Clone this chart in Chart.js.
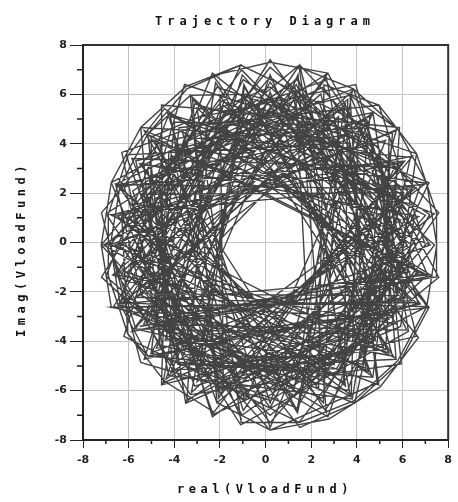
<!DOCTYPE html>
<html>
<head>
<meta charset="utf-8">
<script src="https://cdn.jsdelivr.net/npm/chart.js@4"></script>
<style>
  html, body { margin: 0; padding: 0; background: #fff; }
  #wrap { width: 458px; height: 502px; }
</style>
</head>
<body>
<div id="wrap"><canvas id="trajChart"></canvas></div>
<script>
// trajectory samples: real and imaginary part of VloadFund
const realPart = [
  7.2, 2.53, -6.57, -5.44, 2.63, 6.6, 3.85, -5.17, -3.5, 5.22,
  5.41, -1.09, -3.45, -5.16, -4.04, 5.72, 5.05, -4.24, -6.99, -0.91,
  7.06, 1.26, -6.3, -6.04, -5.16, 3.2, 7.16, -1.92, -7.2, 0.2,
  4.89, 3.67, -6.12, -2.13, 6.2, 0.2, -6.66, 1.1, 7.0, -0.74,
  -5.17, 3.9, 6.35, -2.3, -4.01, 0.2, 7.59, 2.73, -6.99, -1.09,
  6.26, 4.7, -4.24, -4.56, 4.41, 4.9, -2.33, -5.91, -2.6, 5.26,
  5.87, -4.56, -4.5, 2.25, 7.59, 1.49, -5.44, -2.33, 5.27, 3.35,
  -4.13, -6.4, -3.02, 4.25, 5.83, -3.1, -6.21, 1.47, 7.4, 0.2,
  -6.76, -3.1, 3.42, 6.22, -0.98, -5.32, 0.2, 5.72, 2.7, -5.47,
  -4.63, 3.6, 6.78, 0.2, -5.12, -1.78, 6.61, 4.64, -1.58, -6.0,
  2.73, 5.4, 2.18, -5.69, -3.53, 2.85, 6.11, 0.2, -5.6, -1.02,
  6.12, 4.19, -3.4, -4.48, 1.28, 7.1, 3.7, -4.7, -7.19, -5.47,
  0.2, 5.57, 6.61, -2.13, -6.5, -3.3, 5.95, 4.95, -3.55, -6.38,
  -0.77, 6.11, 1.1, -6.19, -3.79, 4.7, 5.52, -1.05, -6.8, -5.69,
  2.05, 6.04, 2.63, -6.3, -4.24, 3.8, 5.4, 0.2, -6.0, 0.2,
  7.0, 4.96, -3.79, -5.01, 1.37, 5.12, 2.32, -4.87, -2.9, 6.68,
  3.95, -2.8, -7.19, -1.92, 4.8, 5.56, -0.88, -5.91, -0.84, 5.92,
  6.5, 0.2, -5.01, -5.06, 1.21, 6.0, 1.38, -5.82, -2.3, 3.87,
  5.46, -1.78, -4.73, -3.85, 3.1, 6.6, 3.0, -3.98, -4.91, 0.2,
  5.74, 4.44, -4.65, -4.32, 2.46, 7.19, 0.2, -7.0, -3.4, 4.7,
  2.66, -5.86, 7.29, -4.3, 0.2, 5.26, -6.69, 3.45, 3.6, -6.1,
  5.41, -0.93, -2.8, 6.59, -5.43, 1.4, 3.93, -6.6, 4.51, 1.31,
  1.9, -6.76, 6.4, -3.3, -2.06, 6.09, -6.38, 2.53, 3.2, -5.72,
  -1.09, -3.5, -5.47, -6.76, -7.2, -6.76, 6.59, -3.0, -1.07, 1.47,
  3.85, 5.79, 7.06, 7.5, 7.06, 5.79, -6.3, 4.8, -0.95, -3.0,
  6.03, -5.44, 3.5, 1.47, 3.85, 5.79, 7.06, 7.5, 7.06, -5.63,
  3.2, -5.86, 6.31, -4.43, -6.04, -6.89, -6.89, -6.04, -4.43, -2.26,
  6.0, -6.1, 4.64, 0.2, -3.66, 6.7, -5.52, 2.32, 2.56, 4.96,
  6.61, 7.49, 7.49, -5.52, 5.91, -3.66, 0.2, 4.31, -6.6, 5.74,
  -2.3, 0.2, 2.73, -5.0, 6.9, -4.86, 1.24, 3.5, -5.25, 5.84,
  -3.2, -2.13, 0.2, 2.77, 5.02, 6.7, -1.99, -1.85, 6.44, -6.5,
  3.7, 1.24, -5.01, 7.2, -5.32, 1.38, 3.8, -6.19, 5.4, -0.84,
  -3.25, 6.4, -6.57, 3.0, 5.72, -6.8, 5.18, 0.2, -4.37, 5.91,
  -4.09, -0.91, 4.7, -6.38, 7.09, -5.09, 2.66, 1.42, -4.17, 6.97,
  -6.79, 5.64, -2.19, -4.49, 6.7, -1.02, -4.4, 7.16, 0.2, -5.34,
  6.18, 1.35, -6.47, 5.56, 2.42, -6.7, 4.38, 3.7, 5.79, 7.06,
  -4.63, -0.98, 5.65, -4.17, -1.99, 7.39, -2.6, -3.45, 6.4, -1.85,
  -5.32, 6.03, -0.88, -3.3, -5.16, -6.38, -6.8, -6.38, -5.16, 6.78,
  0.2, -5.69, 4.49, 1.49, -5.44, 4.96, 3.4, -7.1, 3.4, 4.57,
  -5.71, 1.5, 3.9, 5.87, 7.16, -0.81, -4.78, 5.05, 1.4, -6.3,
  3.75, 4.06, -6.47, 0.2, 5.66, -5.86, -1.05
];
const imagPart = [
  -0.1, 6.29, 2.36, -2.15, -6.77, -1.23, 6.22, 3.0, -6.51, -3.0,
  4.27, 7.19, 6.22, 4.4, -5.16, -4.73, 2.7, 5.19, -1.37, -6.4,
  -2.6, 5.91, 1.05, -3.7, -4.6, -5.3, 2.43, 5.73, -0.1, -7.6,
  -5.69, 4.04, 3.55, -6.49, -0.1, 7.4, -2.6, -5.22, 1.1, 5.22,
  -3.2, -6.51, 3.45, 4.23, -3.64, -7.0, -1.41, 6.86, 1.17, -7.39,
  -3.6, 5.26, 3.63, -5.77, -3.64, 1.61, 6.86, -1.18, -4.95, -4.34,
  4.66, 5.57, -1.81, -5.74, 1.2, 7.19, 1.95, -7.06, -1.95, 5.36,
  2.4, -0.1, -3.93, -4.93, 3.15, 5.62, -3.8, -7.29, -0.1, 5.9,
  2.43, -5.82, -3.93, 2.09, 6.6, -1.07, -5.9, -1.07, 4.23, 4.66,
  -4.15, -5.99, 2.29, 6.7, 0.84, -5.55, -3.8, 3.63, 4.79, -2.36,
  -7.06, -0.1, 5.35, 3.3, -4.54, -4.69, 0.94, 5.3, -0.1, -6.99,
  -2.25, 4.65, 4.19, -2.8, -6.21, -1.32, 5.96, 4.01, 1.2, -4.86,
  -6.4, -3.2, 3.6, 6.29, -1.28, -6.16, -4.92, 3.89, 6.4, -2.49,
  -5.62, -1.14, 5.02, 2.23, -4.85, -5.46, 0.84, 6.99, -0.1, -3.5,
  -5.17, 1.95, 6.57, 3.65, -5.39, -6.34, 2.9, 7.1, -0.1, -7.3,
  -0.1, 5.57, 4.65, -4.47, -6.7, -0.97, 5.73, 1.75, -5.47, -2.46,
  6.4, 5.1, -1.4, -5.93, -3.96, 4.4, 6.01, 0.98, -6.01, -3.4,
  1.01, 6.3, 4.27, -2.02, -5.81, -0.1, 6.6, 2.09, -6.96, -4.47,
  1.82, 5.35, -0.97, -4.93, -5.12, -0.1, 4.75, 4.88, -3.05, -5.3,
  -2.12, 4.96, 2.7, -3.89, -6.3, 1.13, 5.7, -0.1, -6.34, -2.7,
  6.67, -3.6, -1.35, 5.26, -7.5, 4.14, 1.12, -5.73, 5.79, -1.21,
  -4.47, 6.3, -5.3, 2.23, 3.15, -6.9, 4.34, -0.1, -5.23, 6.2,
  -4.2, -2.63, -2.36, 5.96, -6.3, 3.3, 2.29, -6.49, 5.1, -2.25,
  7.19, 6.31, 4.66, 2.43, -0.1, -2.63, -2.43, 5.44, -7.29, -7.29,
  -6.42, -4.79, -2.6, -0.1, 2.4, 4.59, -0.1, -3.96, 6.4, -5.64,
  2.02, 1.95, -5.82, 7.09, 6.22, 4.59, 2.4, -0.1, -2.6, -2.22,
  5.1, -3.6, -1.18, 5.42, 3.5, 1.15, -1.35, -3.7, -5.62, -6.87,
  3.25, 1.01, -5.39, 6.1, -4.7, 1.05, 3.2, -5.93, 6.39, 5.57,
  3.6, 1.19, -1.39, -3.4, -1.11, 4.5, -6.5, 4.8, -1.3, -3.3,
  6.76, 7.3, 6.86, -3.1, -1.28, 4.14, -6.01, 5.62, -2.08, -2.15,
  5.79, -6.49, -7.6, -7.15, -5.85, -3.85, 5.91, -5.74, 3.5, 1.08,
  -6.16, 5.81, -4.47, -0.1, 4.53, -6.8, 6.14, -2.43, -3.1, 5.81,
  -6.08, 2.16, 2.36, -4.95, 4.53, -0.1, -4.28, 6.8, -5.54, 0.91,
  3.5, -6.4, 5.26, -2.49, -1.32, 4.34, -6.87, 6.8, -5.31, 2.36,
  1.13, -4.66, 6.48, -5.69, -1.25, 6.79, -3.96, -2.63, 6.5, -3.3,
  -3.55, 6.4, -2.53, -4.6, 6.01, -1.32, -5.08, 5.96, 4.59, 2.4,
  3.95, -6.8, 1.88, 5.11, -6.12, 1.17, 4.75, -6.42, -0.1, 5.54,
  -4.73, -2.22, 6.01, 5.96, 4.4, 2.29, -0.1, -2.49, -4.6, -2.49,
  5.9, -3.5, -3.7, 7.19, -2.15, -5.77, 5.44, -0.1, -5.64, 5.11,
  0.94, -7.49, -6.51, -4.86, -2.63, 5.61, -4.28, -2.9, 6.7, -1.25,
  -6.25, 4.5, 2.33, -6.7, 3.05, 3.4, -7.19
];

const axisMin = -8;
const axisMax = 8;
const chartTitle = 'Trajectory Diagram';
const xTitle = 'real(VloadFund)';
const yTitle = 'Imag(VloadFund)';

const points = realPart.map((x, i) => ({ x: x, y: imagPart[i] }));

const gridColor = (c) => (Math.round(c.tick.value) % 2 === 0 ? '#c4c4c4' : 'rgba(0,0,0,0)');
const tickLabel = (v) => (Math.round(v) % 2 === 0 ? String(v) : '');

// frame, minor ticks and spaced-out titles
const decor = {
  id: 'decor',
  afterDraw(chart) {
    const ctx = chart.ctx;
    const a = chart.chartArea;
    const xs = chart.scales.x;
    const ys = chart.scales.y;
    ctx.save();
    ctx.strokeStyle = '#333';
    ctx.lineWidth = 2;
    ctx.beginPath();
    ctx.moveTo(a.left, a.top);
    ctx.lineTo(a.right, a.top);
    ctx.lineTo(a.right, a.bottom);
    ctx.stroke();

    ctx.lineWidth = 1.5;
    ctx.strokeStyle = '#222';
    for (let v = axisMin + 1; v < axisMax; v += 2) {
      const px = xs.getPixelForValue(v);
      const py = ys.getPixelForValue(v);
      ctx.beginPath();
      ctx.moveTo(px, a.bottom);
      ctx.lineTo(px, a.bottom + 4);
      ctx.moveTo(a.left - 6, py);
      ctx.lineTo(a.left, py);
      ctx.stroke();
    }

    ctx.fillStyle = '#111';
    ctx.font = 'bold 12px "DejaVu Sans Mono"';
    ctx.textAlign = 'center';
    ctx.textBaseline = 'middle';
    if ('letterSpacing' in ctx) ctx.letterSpacing = '5px';
    ctx.fillText(chartTitle, 265, 22);
    if ('letterSpacing' in ctx) ctx.letterSpacing = '4.5px';
    ctx.fillText(xTitle, 265, 490);
    ctx.translate(22, 249);
    ctx.rotate(-Math.PI / 2);
    ctx.fillText(yTitle, 0, 0);
    ctx.restore();
  }
};

const ctx = document.getElementById('trajChart').getContext('2d');
const trajChart = new Chart(ctx, {
  type: 'scatter',
  data: {
    datasets: [{
      label: 'VloadFund',
      data: points,
      showLine: true,
      borderColor: '#434343',
      borderWidth: 1.4,
      pointRadius: 0,
      tension: 0
    }]
  },
  options: {
    responsive: true,
    maintainAspectRatio: false,
    animation: false,
    layout: { padding: { top: 45, right: 1, left: 0, bottom: 0 } },
    scales: {
      x: {
        type: 'linear',
        min: axisMin,
        max: axisMax,
        afterFit: (s) => { s.height = 62; },
        ticks: {
          stepSize: 2,
          maxRotation: 0,
          padding: 6,
          color: '#222',
          font: { family: 'DejaVu Sans', size: 11, weight: 'bold' },
          callback: tickLabel
        },
        grid: { color: gridColor, tickColor: '#222', tickLength: 8, lineWidth: 1 },
        border: { display: true, color: '#222', width: 2 }
      },
      y: {
        type: 'linear',
        min: axisMin,
        max: axisMax,
        afterFit: (s) => { s.width = 83; },
        ticks: {
          stepSize: 2,
          padding: 3,
          color: '#222',
          font: { family: 'DejaVu Sans', size: 11, weight: 'bold' },
          callback: tickLabel
        },
        grid: { color: gridColor, tickColor: '#222', tickLength: 13, lineWidth: 1 },
        border: { display: true, color: '#222', width: 2 }
      }
    },
    plugins: {
      legend: { display: false },
      tooltip: { enabled: false },
      title: { display: false }
    }
  },
  plugins: [decor]
});
</script>
</body>
</html>
